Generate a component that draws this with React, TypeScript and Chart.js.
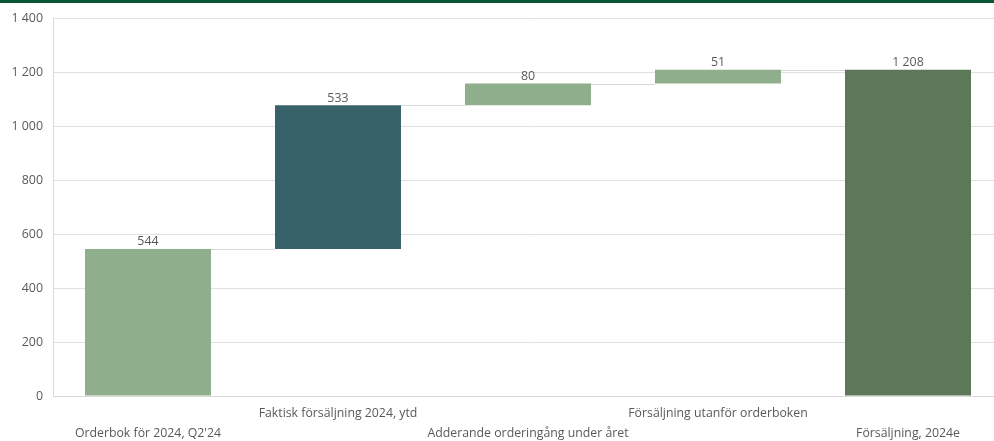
import React, { useEffect, useRef } from "react";
import { Chart, registerables } from "chart.js";

Chart.register(...registerables);

const categories = [
  "Orderbok för 2024, Q2'24",
  "Faktisk försäljning 2024, ytd",
  "Adderande orderingång under året",
  "Försäljning utanför orderboken",
  "Försäljning, 2024e",
];
const values = [544, 533, 80, 51, 1208];
const isTotal = [true, false, false, false, true];
const barColors = ["#8fae8b", "#37626a", "#8fae8b", "#8fae8b", "#5d7859"];
const yTicks = [0, 200, 400, 600, 800, 1000, 1200, 1400];

const fmt = (v: number) => String(v).replace(/\B(?=(\d{3})+(?!\d))/g, " ");

const FONT = "'Open Sans', 'Noto Sans', sans-serif";

export default function App() {
  const ref = useRef<HTMLCanvasElement | null>(null);

  useEffect(() => {
    if (!ref.current) return;
    let run = 0;
    const ranges: [number, number][] = values.map((v, i) => {
      if (isTotal[i]) {
        run = v;
        return [0, v];
      }
      const r: [number, number] = [run, run + v];
      run += v;
      return r;
    });
    const labels = categories.map((c, i) => (i % 2 === 0 ? ["", c] : [c]));

    const overlay = {
      id: "overlay",
      afterDatasetsDraw(chart: any) {
        const ctx = chart.ctx;
        const meta = chart.getDatasetMeta(0);
        const y = chart.scales.y;
        ctx.save();
        ctx.strokeStyle = "#d9d9d9";
        ctx.lineWidth = 1;
        for (let i = 0; i < meta.data.length - 1; i++) {
          const a = meta.data[i];
          const b = meta.data[i + 1];
          const lvl = ranges[i][1];
          const py = Math.round(y.getPixelForValue(lvl)) + 0.5;
          ctx.beginPath();
          ctx.moveTo(a.x + a.width / 2, py);
          ctx.lineTo(b.x - b.width / 2, py);
          ctx.stroke();
        }
        ctx.fillStyle = "#595959";
        ctx.font = `12.4px ${FONT}`;
        ctx.textAlign = "center";
        ctx.textBaseline = "bottom";
        meta.data.forEach((el: any, i: number) => {
          const top = y.getPixelForValue(ranges[i][1]);
          ctx.fillText(fmt(values[i]), el.x, top - 1);
        });
        ctx.restore();
      },
    };

    const chart = new Chart(ref.current, {
      type: "bar",
      data: {
        labels,
        datasets: [
          {
            data: ranges as any,
            backgroundColor: barColors,
            borderWidth: 0,
            categoryPercentage: 1,
            barPercentage: 0.663,
          },
        ],
      },
      options: {
        animation: false,
        responsive: false,
        maintainAspectRatio: false,
        layout: { padding: { top: 18, right: 7, left: 0, bottom: 0 } },
        plugins: {
          legend: { display: false },
          tooltip: { enabled: false },
        },
        scales: {
          x: {
            grid: { display: false, drawTicks: false },
            border: { display: true, color: "#d9d9d9" },
            ticks: {
              color: "#595959",
              font: { family: FONT, size: 12.3, lineHeight: 1.62 },
              padding: 8,
              maxRotation: 0,
              autoSkip: false,
            },
            afterFit(scale: any) {
              scale.height = 45;
            },
          },
          y: {
            min: 0,
            max: 1400,
            afterBuildTicks(scale: any) {
              scale.ticks = yTicks.map((v) => ({ value: v }));
            },
            grid: { color: "#e0e0e0", drawTicks: false },
            border: { display: true, color: "#d9d9d9" },
            ticks: {
              color: "#595959",
              font: { family: FONT, size: 12.4 },
              padding: 10,
              callback: (v: any) => fmt(Number(v)),
            },
            afterFit(scale: any) {
              scale.width = 53;
            },
          },
        },
      },
      plugins: [overlay],
    });
    return () => chart.destroy();
  }, []);

  return (
    <div
      style={{
        position: "fixed",
        left: 0,
        top: 0,
        width: 994,
        height: 441,
        overflow: "hidden",
        background: "#ffffff",
      }}
    >
      <div style={{ position: "absolute", left: 0, top: 0, width: 994, height: 3, background: "#0b5535" }} />
      <canvas ref={ref} width={1010} height={441} style={{ display: "block", width: 1010, height: 441 }} />
    </div>
  );
}
